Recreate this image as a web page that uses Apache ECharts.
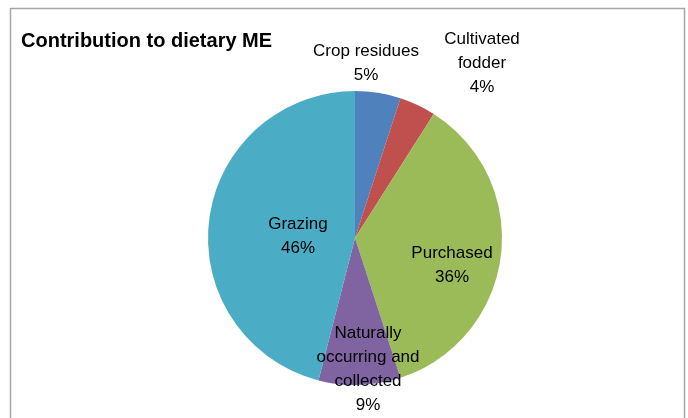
<!DOCTYPE html>
<html>
<head>
<meta charset="utf-8">
<script src="https://cdn.jsdelivr.net/npm/echarts@6/dist/echarts.min.js"></script>
<style>
  html, body { margin: 0; padding: 0; background: #fff; }
  #main { width: 688px; height: 418px; }
</style>
</head>
<body>
<div id="main"></div>
<script>
// data
var categories = ['Crop residues', 'Cultivated\nfodder', 'Purchased', 'Naturally\noccurring and\ncollected', 'Grazing'];
var shares = [5, 4, 36, 9, 46];
var colors = ['#4F81BD', '#C0504D', '#9BBB59', '#8064A2', '#4BACC6'];

// where excel put the labels (block centre)
var labelSpots = [[366, 63], [482, 63], [452, 265], [368, 369], [298, 236]];

var chart = echarts.init(document.getElementById('main'));

var option = {
    animation: false,
    title: {
        text: 'Contribution to dietary ME',
        left: 16,
        top: 26,
        textStyle: {
            fontFamily: 'Liberation Sans',
            fontSize: 20,
            fontWeight: 'bold',
            color: '#000'
        }
    },
    graphic: [{
        type: 'rect',
        shape: { x: 10.5, y: 8.5, width: 674, height: 440 },
        style: { fill: 'none', stroke: '#a6a6a6', lineWidth: 1.5 },
        silent: true
    }],
    series: [{
        type: 'pie',
        center: [355, 238],
        radius: 147,
        startAngle: 90,
        clockwise: true,
        data: categories.map(function (c, i) {
            return { name: c, value: shares[i], itemStyle: { color: colors[i] } };
        }),
        label: {
            show: true,
            position: 'inside',
            formatter: '{b}\n{d}%',
            fontFamily: 'Liberation Sans',
            fontSize: 17,
            lineHeight: 24,
            color: '#000',
            align: 'center'
        },
        labelLine: { show: false },
        labelLayout: function (p) {
            var s = labelSpots[p.dataIndex];
            return { x: s[0], y: s[1], align: 'center', verticalAlign: 'middle' };
        },
        itemStyle: { borderWidth: 0 },
        emphasis: { disabled: true }
    }]
};

chart.setOption(option);
</script>
</body>
</html>
